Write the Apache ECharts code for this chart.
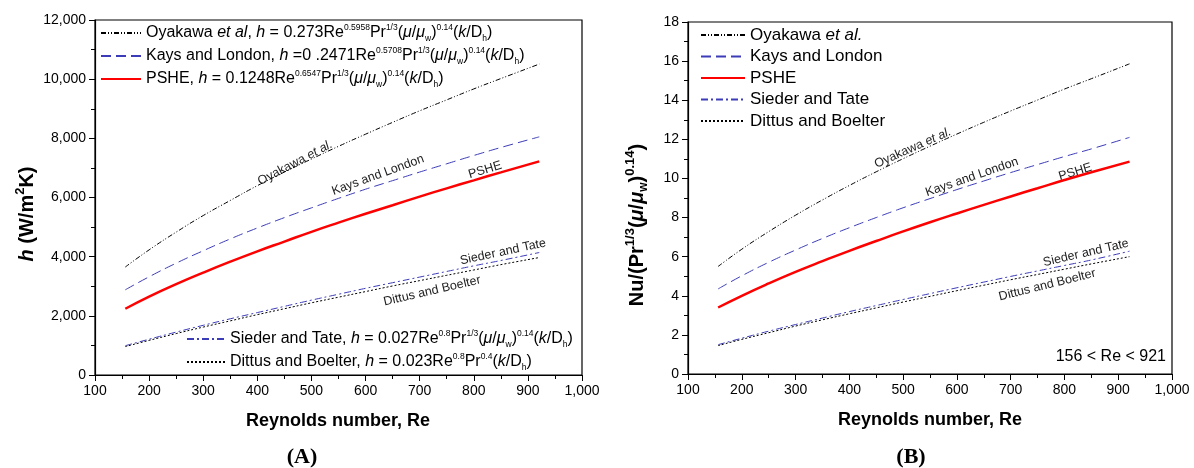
<!DOCTYPE html>
<html>
<head>
<meta charset="utf-8">
<script src="https://cdn.jsdelivr.net/npm/echarts@6/dist/echarts.min.js"></script>
<style>
  html, body { margin: 0; padding: 0; background: #fff; }
  #main { width: 1194px; height: 468px; }
</style>
</head>
<body>
<div id="main"></div>
<script>
  // Reynolds numbers
  const re = [156, 200, 250, 300, 350, 400, 450, 500, 550, 600, 650, 700, 750, 800, 850, 921];

  // (A) heat transfer coefficient h, W/m2K
  const oyakawaH = [3650, 4230, 4830, 5390, 5900, 6400, 6860, 7300, 7730, 8140, 8540, 8930, 9300, 9670, 10020, 10510];
  const kaysH = [2880, 3320, 3780, 4200, 4600, 4970, 5320, 5650, 5970, 6280, 6570, 6860, 7140, 7420, 7690, 8050];
  const psheH = [2240, 2650, 3070, 3460, 3830, 4180, 4510, 4840, 5150, 5450, 5740, 6030, 6310, 6580, 6850, 7220];
  const siederH = [990, 1210, 1450, 1680, 1900, 2110, 2320, 2530, 2730, 2930, 3120, 3310, 3500, 3690, 3870, 4140];
  const dittusH = [960, 1170, 1400, 1620, 1830, 2040, 2240, 2440, 2630, 2820, 3010, 3190, 3370, 3550, 3730, 3970];

  // (B) Nu/(Pr^1/3 (mu/mu_w)^0.14)
  const oyakawaNu = [5.5, 6.38, 7.28, 8.12, 8.9, 9.64, 10.34, 11.01, 11.65, 12.27, 12.87, 13.45, 14.01, 14.57, 15.1, 15.86];
  const kaysNu = [4.35, 5.02, 5.71, 6.34, 6.93, 7.48, 8.0, 8.5, 8.97, 9.43, 9.87, 10.3, 10.71, 11.12, 11.51, 12.1];
  const psheNu = [3.4, 4.0, 4.63, 5.22, 5.77, 6.3, 6.8, 7.29, 7.76, 8.21, 8.65, 9.08, 9.5, 9.92, 10.32, 10.86];
  const siederNu = [1.5, 1.83, 2.19, 2.53, 2.86, 3.19, 3.5, 3.81, 4.11, 4.41, 4.7, 4.99, 5.27, 5.55, 5.83, 6.28];
  const dittusNu = [1.45, 1.77, 2.11, 2.45, 2.77, 3.08, 3.38, 3.68, 3.97, 4.26, 4.54, 4.82, 5.09, 5.36, 5.63, 6.0];

  const FONT = 'Liberation Sans, Arial, sans-serif';

  // line styles of the five correlations
  const styles = {
    oyakawa: { color: '#000000', width: 1, type: [5, 2, 1, 2, 1, 2] },
    kays: { color: '#3c3cb8', width: 1, type: [10, 5] },
    pshe: { color: '#ff0000', width: 2.5, type: 'solid' },
    sieder: { color: '#3c3cb8', width: 1, type: [7, 3, 2, 3] },
    dittus: { color: '#000000', width: 1, type: [2, 2] }
  };

  const mu = '({i|μ}/{i|μ}{sub|w}){sup|0.14}';
  const kd = '({i|k}/D{sub|h})';
  const legendText = {
    'Oyakawa h': 'Oyakawa {i|et al}, {i|h} = 0.273Re{sup|0.5958}Pr{sup|1/3}' + mu + kd,
    'Kays h': 'Kays and London, {i|h} =0 .2471Re{sup|0.5708}Pr{sup|1/3}' + mu + kd,
    'PSHE h': 'PSHE, {i|h} = 0.1248Re{sup|0.6547}Pr{sup|1/3}' + mu + kd,
    'Sieder h': 'Sieder and Tate, {i|h} = 0.027Re{sup|0.8}Pr{sup|1/3}' + mu + kd,
    'Dittus h': 'Dittus and Boelter, {i|h} = 0.023Re{sup|0.8}Pr{sup|0.4}' + kd,
    'Oyakawa Nu': 'Oyakawa {i|et al.}',
    'Kays Nu': 'Kays and London',
    'PSHE Nu': 'PSHE',
    'Sieder Nu': 'Sieder and Tate',
    'Dittus Nu': 'Dittus and Boelter'
  };

  function richFor(size) {
    return {
      i: { fontSize: size, fontStyle: 'italic', fontFamily: FONT, lineHeight: 20 },
      sup: { fontSize: 8.5, fontFamily: FONT, lineHeight: 10, verticalAlign: 'top' },
      sub: { fontSize: 8.5, fontFamily: FONT, lineHeight: 8, verticalAlign: 'bottom' }
    };
  }

  function makeLegend(names, left, top, width, size, gap) {
    return {
      data: names,
      orient: 'vertical',
      left: left,
      top: top,
      itemWidth: width,
      itemHeight: 12,
      itemGap: gap,
      padding: 0,
      selectedMode: false,
      itemStyle: { opacity: 0 },
      formatter: name => legendText[name],
      textStyle: { fontSize: size, fontFamily: FONT, color: '#000', lineHeight: 20, rich: richFor(size) }
    };
  }

  function xAxisFor(grid) {
    return {
      type: 'value', gridIndex: grid, min: 100, max: 1000, interval: 100,
      axisLine: { lineStyle: { color: '#000', width: 1.2 } },
      axisTick: { length: 6, lineStyle: { color: '#000' } },
      minorTick: { show: true, splitNumber: 2, length: 4, lineStyle: { color: '#000' } },
      splitLine: { show: false },
      axisLabel: { color: '#000', fontSize: 14, fontFamily: FONT, margin: 9,
        formatter: v => v.toLocaleString('en-US') }
    };
  }

  function yAxisFor(grid, max, interval) {
    return {
      type: 'value', gridIndex: grid, min: 0, max: max, interval: interval,
      axisLine: { show: true, lineStyle: { color: '#000', width: 1.2 } },
      axisTick: { show: true, length: 6, lineStyle: { color: '#000' } },
      minorTick: { show: true, splitNumber: 2, length: 4, lineStyle: { color: '#000' } },
      splitLine: { show: false },
      axisLabel: { color: '#000', fontSize: 14, fontFamily: FONT, margin: 9,
        formatter: v => v.toLocaleString('en-US') }
    };
  }

  function line(name, grid, values, style) {
    return {
      name: name, type: 'line', xAxisIndex: grid, yAxisIndex: grid,
      data: re.map((r, i) => [r, values[i]]),
      symbol: 'none', smooth: true, silent: true,
      lineStyle: style, itemStyle: { color: style.color }
    };
  }

  const chart = echarts.init(document.getElementById('main'));
  chart.setOption({
    animation: false,
    backgroundColor: '#fff',
    grid: [
      { left: 95, right: 612, top: 20, bottom: 93, show: true, borderColor: '#000', borderWidth: 1.2 },
      { left: 688, right: 22, top: 22, bottom: 94, show: true, borderColor: '#000', borderWidth: 1.2 }
    ],
    xAxis: [xAxisFor(0), xAxisFor(1)],
    yAxis: [yAxisFor(0, 12000, 2000), yAxisFor(1, 18, 2)],
    legend: [
      makeLegend(['Oyakawa h', 'Kays h', 'PSHE h'], 100, 23, 40, 16, 3),
      makeLegend(['Sieder h', 'Dittus h'], 186, 329, 38, 16, 3),
      makeLegend(['Oyakawa Nu', 'Kays Nu', 'PSHE Nu', 'Sieder Nu', 'Dittus Nu'], 700, 25, 44, 17, 1.5)
    ],
    series: [
      line('Oyakawa h', 0, oyakawaH, styles.oyakawa),
      line('Kays h', 0, kaysH, styles.kays),
      line('PSHE h', 0, psheH, styles.pshe),
      line('Sieder h', 0, siederH, styles.sieder),
      line('Dittus h', 0, dittusH, styles.dittus),
      line('Oyakawa Nu', 1, oyakawaNu, styles.oyakawa),
      line('Kays Nu', 1, kaysNu, styles.kays),
      line('PSHE Nu', 1, psheNu, styles.pshe),
      line('Sieder Nu', 1, siederNu, styles.sieder),
      line('Dittus Nu', 1, dittusNu, styles.dittus)
    ]
  });

  // labels written along the curves, anchored in data coordinates
  const curveLabels = [
    { grid: 0, text: 'Oyakawa {i|et al.}', re: 470, v: 7170, rot: 28 },
    { grid: 0, text: 'Kays and London', re: 623, v: 6760, rot: 20 },
    { grid: 0, text: 'PSHE', re: 821, v: 6930, rot: 17 },
    { grid: 0, text: 'Sieder and Tate', re: 854, v: 4160, rot: 12 },
    { grid: 0, text: 'Dittus and Boelter', re: 723, v: 2840, rot: 13 },
    { grid: 1, text: 'Oyakawa {i|et al.}', re: 518, v: 11.56, rot: 24 },
    { grid: 1, text: 'Kays and London', re: 628, v: 10.07, rot: 19 },
    { grid: 1, text: 'PSHE', re: 820, v: 10.33, rot: 17 },
    { grid: 1, text: 'Sieder and Tate', re: 840, v: 6.19, rot: 13 },
    { grid: 1, text: 'Dittus and Boelter', re: 768, v: 4.55, rot: 14 }
  ];

  const graphics = curveLabels.map(l => {
    const p = chart.convertToPixel({ gridIndex: l.grid }, [l.re, l.v]);
    return {
      type: 'text', x: p[0], y: p[1], rotation: l.rot * Math.PI / 180, silent: true,
      style: {
        text: l.text, fontSize: 12.5, fontFamily: FONT, fill: '#222',
        align: 'center', verticalAlign: 'middle',
        rich: { i: { fontSize: 12.5, fontStyle: 'italic', fontFamily: FONT, fill: '#222' } }
      }
    };
  });

  const boldRich = {
    bi: { fontSize: 20, fontWeight: 'bold', fontStyle: 'italic', fontFamily: FONT, lineHeight: 26 },
    sup: { fontSize: 13, fontWeight: 'bold', fontFamily: FONT, lineHeight: 12, verticalAlign: 'top' },
    sub: { fontSize: 12, fontWeight: 'bold', fontFamily: FONT, lineHeight: 10, verticalAlign: 'bottom' }
  };

  graphics.push(
    { type: 'text', x: 27, y: 214, rotation: Math.PI / 2, silent: true,
      style: { text: '{bi|h} (W/m{sup|2}K)', fontSize: 20, fontWeight: 'bold', fontFamily: FONT, fill: '#000',
        lineHeight: 26, align: 'center', verticalAlign: 'middle', rich: boldRich } },
    { type: 'text', x: 637, y: 225, rotation: Math.PI / 2, silent: true,
      style: { text: 'Nu/(Pr{sup|1/3}({bi|μ}/{bi|μ}{sub|w}){sup|0.14})', fontSize: 20, fontWeight: 'bold', fontFamily: FONT,
        fill: '#000', lineHeight: 26, align: 'center', verticalAlign: 'middle', rich: boldRich } },
    { type: 'text', x: 338, y: 421, silent: true,
      style: { text: 'Reynolds number, Re', fontSize: 18, fontWeight: 'bold', fontFamily: FONT, fill: '#000',
        align: 'center', verticalAlign: 'middle' } },
    { type: 'text', x: 930, y: 420, silent: true,
      style: { text: 'Reynolds number, Re', fontSize: 18, fontWeight: 'bold', fontFamily: FONT, fill: '#000',
        align: 'center', verticalAlign: 'middle' } },
    { type: 'text', x: 302, y: 457, silent: true,
      style: { text: '(A)', fontSize: 22, fontWeight: 'bold', fontFamily: 'Liberation Serif, Times New Roman, serif',
        fill: '#000', align: 'center', verticalAlign: 'middle' } },
    { type: 'text', x: 911, y: 457, silent: true,
      style: { text: '(B)', fontSize: 22, fontWeight: 'bold', fontFamily: 'Liberation Serif, Times New Roman, serif',
        fill: '#000', align: 'center', verticalAlign: 'middle' } },
    { type: 'text', x: 1166, y: 357, silent: true,
      style: { text: '156 < Re < 921', fontSize: 16, fontFamily: FONT, fill: '#000',
        align: 'right', verticalAlign: 'middle' } }
  );

  chart.setOption({ graphic: graphics });
</script>
</body>
</html>
